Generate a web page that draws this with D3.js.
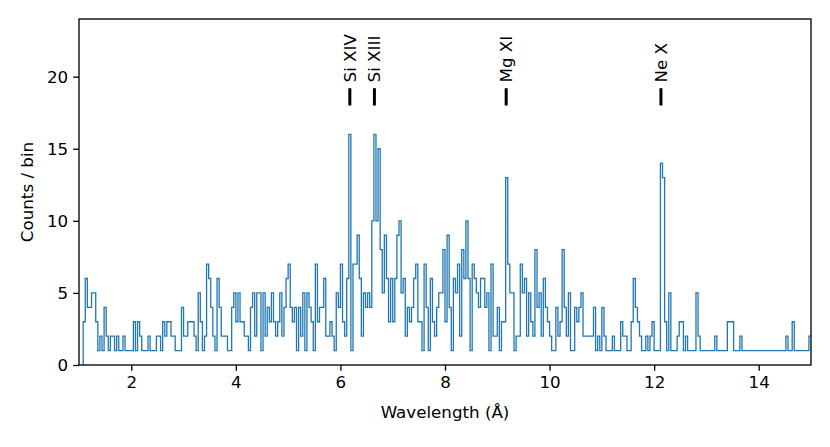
<!DOCTYPE html>
<html>
<head>
<meta charset="utf-8">
<script src="https://cdn.jsdelivr.net/npm/d3@7"></script>
<style>
  body { margin: 0; background: #fff; }
  text { font-family: "DejaVu Sans", sans-serif; }
</style>
</head>
<body>
<svg id="chart" width="830" height="447"></svg>
<script>
// Histogram bins (Angstrom), counts
var binStart = 1.08
var binWidth = 0.04
var counts = [
  3, 6, 4, 4, 5, 5, 3, 1, 2, 1, 4, 2, 1, 2, 2, 1, 2, 1, 1, 2,
  1, 1, 1, 1, 3, 1, 3, 2, 1, 1, 1, 2, 1, 1, 1, 2, 2, 1, 3, 2,
  3, 3, 2, 2, 1, 1, 1, 4, 2, 2, 3, 3, 3, 2, 1, 5, 3, 1, 2, 7,
  6, 4, 2, 1, 6, 4, 2, 2, 2, 1, 1, 4, 5, 3, 5, 3, 3, 2, 2, 1,
  4, 5, 2, 5, 5, 1, 5, 2, 4, 3, 5, 3, 2, 3, 5, 2, 4, 6, 7, 4,
  3, 4, 1, 4, 2, 5, 1, 5, 4, 3, 1, 7, 3, 4, 4, 6, 2, 2, 3, 2,
  1, 5, 4, 7, 3, 2, 6, 16, 1, 7, 7, 9, 6, 2, 5, 4, 5, 4, 10, 16,
  10, 15, 8, 5, 9, 6, 3, 6, 3, 6, 9, 10, 5, 6, 2, 4, 3, 4, 6, 7,
  3, 3, 1, 7, 4, 1, 6, 3, 2, 4, 5, 5, 8, 3, 9, 4, 1, 6, 5, 7,
  2, 8, 6, 10, 6, 1, 7, 6, 5, 4, 6, 6, 4, 5, 1, 7, 2, 2, 4, 1,
  3, 3, 13, 7, 5, 5, 1, 2, 2, 7, 5, 6, 2, 5, 3, 2, 8, 4, 5, 2,
  6, 4, 3, 2, 1, 1, 4, 2, 3, 8, 4, 2, 5, 1, 1, 4, 3, 4, 5, 2,
  2, 2, 2, 2, 4, 1, 2, 1, 4, 2, 1, 1, 1, 2, 1, 1, 1, 3, 2, 2,
  1, 1, 3, 6, 4, 3, 2, 1, 1, 2, 1, 2, 3, 1, 1, 1, 14, 13, 3, 1,
  5, 1, 1, 1, 2, 3, 3, 1, 2, 1, 1, 1, 1, 5, 2, 1, 1, 1, 1, 1,
  1, 1, 2, 1, 1, 1, 1, 1, 3, 3, 3, 1, 1, 1, 2, 1, 1, 1, 1, 1,
  1, 1, 1, 1, 1, 1, 1, 1, 1, 1, 1, 1, 1, 1, 1, 1, 2, 1, 1, 3,
  1, 1, 1, 1, 1, 1, 1, 2
]

// Emission lines marked above the spectrum
var lineNames = ["Si XIV", "Si XIII", "Mg XI", "Ne X"]
var lineWaves = [6.18, 6.65, 9.17, 12.13]

var xTicks = [2, 4, 6, 8, 10, 12, 14]
var yTicks = [0, 5, 10, 15, 20]

// plot box in pixels ("top" is taken by window.top, so prefix them)
var boxLeft = 79, boxRight = 811, boxTop = 19, boxBottom = 365
var fontSize = "16.7px"

var svg = d3.select("#chart")

var xScale = d3.scaleLinear()
    .domain([1, 15])
    .range([boxLeft, boxRight])

var yScale = d3.scaleLinear()
    .domain([0, 24])
    .range([boxBottom, boxTop])

// step points: start from zero at the first edge
var steps = [{x: binStart, y: 0}]
counts.forEach(function(c, i){
  steps.push({x: binStart + i * binWidth, y: c})
})
steps.push({x: binStart + counts.length * binWidth, y: counts[counts.length - 1]})

svg.append("clipPath")
    .attr("id", "plotClip")
  .append("rect")
    .attr("x", boxLeft)
    .attr("y", boxTop)
    .attr("width", boxRight - boxLeft)
    .attr("height", boxBottom - boxTop)

var line = d3.line()
    .x(function(d){ return xScale(d.x) })
    .y(function(d){ return yScale(d.y) })
    .curve(d3.curveStepAfter)

svg.append("path")
    .datum(steps)
    .attr("clip-path", "url(#plotClip)")
    .attr("fill", "none")
    .attr("stroke", "#1f77b4")
    .attr("stroke-width", 1.3)
    .attr("d", line)

// markers and labels for the lines
lineWaves.forEach(function(w, i){
  svg.append("line")
      .attr("x1", xScale(w))
      .attr("x2", xScale(w))
      .attr("y1", yScale(18))
      .attr("y2", yScale(19.2))
      .attr("stroke", "#000")
      .attr("stroke-width", 3)

  svg.append("text")
      .attr("transform", "translate(" + xScale(w) + "," + yScale(19.6) + ") rotate(-90)")
      .attr("dy", "0.35em")
      .style("text-anchor", "start")
      .style("font-size", fontSize)
      .text(lineNames[i])
})

// axes
svg.append("g")
    .attr("transform", "translate(0," + boxBottom + ")")
    .call(d3.axisBottom(xScale).tickValues(xTicks).tickSize(5.8).tickPadding(5).tickFormat(d3.format("d")))

svg.append("g")
    .attr("transform", "translate(" + boxLeft + ",0)")
    .call(d3.axisLeft(yScale).tickValues(yTicks).tickSize(5.8).tickPadding(5).tickFormat(d3.format("d")))

svg.selectAll(".domain").remove()
svg.selectAll(".tick line").attr("stroke", "#000").attr("stroke-width", 1.33)
svg.selectAll(".tick text")
    .attr("fill", "#000")
    .style("font-size", fontSize)
    .style("font-family", "DejaVu Sans")

// frame
svg.append("rect")
    .attr("x", boxLeft)
    .attr("y", boxTop)
    .attr("width", boxRight - boxLeft)
    .attr("height", boxBottom - boxTop)
    .attr("fill", "none")
    .attr("stroke", "#000")
    .attr("stroke-width", 1.33)

// axis labels
svg.append("text")
    .attr("x", (boxLeft + boxRight) / 2)
    .attr("y", 418)
    .style("text-anchor", "middle")
    .style("font-size", fontSize)
    .text("Wavelength (Å)")

svg.append("text")
    .attr("transform", "translate(33," + ((boxTop + boxBottom) / 2) + ") rotate(-90)")
    .style("text-anchor", "middle")
    .style("font-size", fontSize)
    .text("Counts / bin")
</script>
</body>
</html>
